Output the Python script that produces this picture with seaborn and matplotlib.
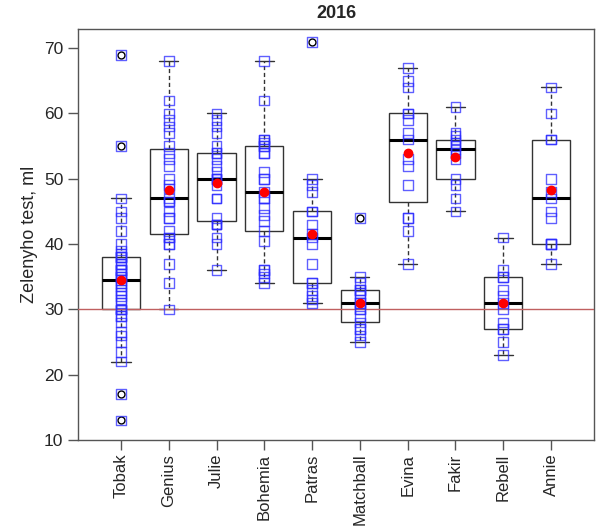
import numpy as np, pandas as pd, matplotlib
matplotlib.use('Agg')
import matplotlib.pyplot as plt
import seaborn as sns

# ── data: Zelenyho test per variety, 2016 ─────────────────────────
VARIETIES = ['Tobak', 'Genius', 'Julie', 'Bohemia', 'Patras',
             'Matchball', 'Evina', 'Fakir', 'Rebell', 'Annie']
tobak = [13, 17, 22, 23.5, 25, 26, 26.5, 28, 29, 29, 30, 30, 30, 31, 31.5, 32, 32.5,
         33, 33.5, 34, 34.5, 35, 35, 35.5, 36, 36, 36, 37, 37, 38, 38, 38, 38.5, 39,
         40, 42, 44, 45, 47, 55, 69]
genius = [30, 34, 37, 40, 40, 41, 41, 42, 44, 44, 45, 46.5, 46.5, 47, 48.5, 49, 50,
          52, 53, 54, 55, 57, 58, 59, 60, 62, 68]
julie = [36, 40, 41, 43, 43, 43, 44, 47, 47, 49, 50, 50, 50, 51, 52, 53, 54, 54, 55,
         57, 58, 59, 60]
bohemia = [34, 35, 35.5, 36, 36, 40.5, 42, 43.5, 44.5, 45.5, 47, 47, 48, 50, 50, 51,
           54, 54, 55, 55, 55.5, 56, 56, 62, 68]
patras = [31, 31.5, 32, 33, 34, 34, 37, 40, 41, 41.5, 43, 45, 45, 48, 49, 50, 71]
matchball = [25, 26, 27, 27, 28, 29, 30, 30, 31, 31, 32, 32.5, 33, 33, 34, 35, 44]
evina = [37, 42, 44, 44, 49, 52, 53, 56, 57, 59, 60, 60, 64, 65, 67]
fakir = [45, 47, 49, 50, 53, 54, 54.5, 55, 55.5, 56, 56.5, 57, 61]
rebell = [23, 25, 27, 27, 28, 30, 31, 32, 33, 35, 35, 36, 41]
annie = [37, 40, 40, 40, 44, 45, 47, 48, 50, 56, 56, 60, 64]
LIMIT = 30

groups = [tobak, genius, julie, bohemia, patras, matchball, evina, fakir, rebell, annie]
df = pd.DataFrame({'odruda': np.repeat(VARIETIES, [len(g) for g in groups]),
                   'zeleny': np.concatenate(groups)})

sns.set_style('white')
plt.rcParams['font.family'] = ['Liberation Sans', 'DejaVu Sans']

fig = plt.figure(figsize=(6, 5.32), dpi=100)
ax = fig.add_axes([0.13, 0.173, 0.86, 0.772])

sns.boxplot(data=df, x='odruda', y='zeleny', order=VARIETIES, width=0.8,
            color='white', linecolor='#333333', linewidth=1, ax=ax,
            medianprops=dict(color='black', linewidth=2.2),
            whiskerprops=dict(linestyle=(0, (3, 2)), color='#333333'),
            capprops=dict(color='#333333'),
            flierprops=dict(marker='o', markersize=5, markerfacecolor='white',
                            markeredgecolor='black'))
ax.axhline(LIMIT, color='#c06060', lw=1, zorder=3)
sns.stripplot(data=df, x='odruda', y='zeleny', order=VARIETIES, jitter=False,
              marker='s', size=7, facecolor='none', edgecolor='#2a2aff',
              linewidth=1, alpha=0.75, zorder=4, ax=ax)
sns.pointplot(data=df, x='odruda', y='zeleny', order=VARIETIES, estimator='mean',
              errorbar=None, linestyle='none', color='red', marker='o',
              markersize=5, zorder=5, ax=ax)

ax.set_xlim(-0.9, 9.9); ax.set_ylim(10, 72.9)
ax.set_yticks(range(10, 71, 10))
ax.tick_params(axis='both', direction='out', length=7, width=1, color='#555555',
               left=True, bottom=True)
ax.tick_params(axis='y', labelsize=12.5)
ax.tick_params(axis='x', labelrotation=90, labelsize=12, pad=3)
for s in ax.spines.values():
    s.set_visible(True); s.set_color('#555555'); s.set_linewidth(1)
ax.set_xlabel('')
ax.set_ylabel('Zelenyho test, ml', fontsize=13)
ax.set_title('2016', fontsize=13, fontweight='bold', pad=8)

plt.savefig('out.png', dpi=100)
